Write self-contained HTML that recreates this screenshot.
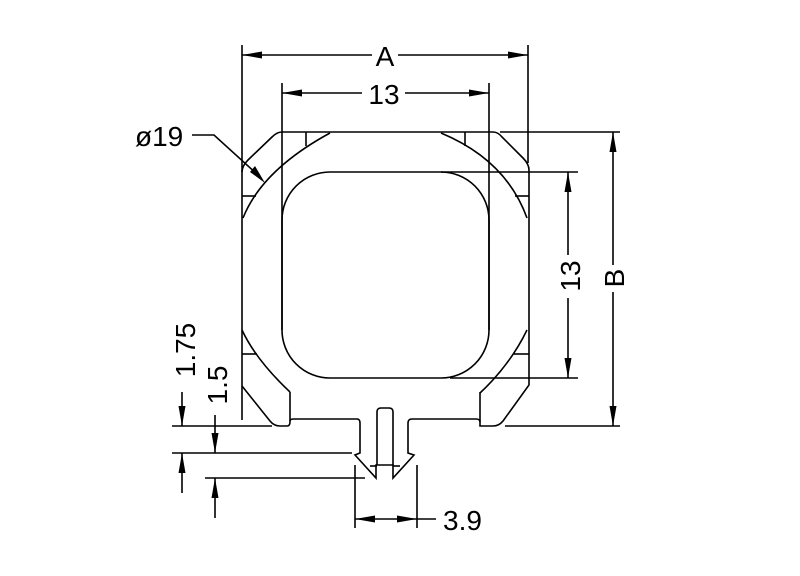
<!DOCTYPE html>
<html><head><meta charset="utf-8"><style>
html,body{margin:0;padding:0;background:#fff;}
svg{display:block;}
text{font-family:"Liberation Sans","DejaVu Sans",sans-serif;fill:#000;}
</style></head><body>
<svg width="800" height="576" viewBox="0 0 800 576" xmlns="http://www.w3.org/2000/svg">
<g fill="none" stroke="#000" stroke-width="1.6">
<line x1="242" y1="45" x2="242" y2="420"/>
<line x1="528" y1="45" x2="528" y2="163"/>
<line x1="282" y1="83" x2="282" y2="330"/>
<line x1="489" y1="83" x2="489" y2="330"/>
<line x1="500" y1="132" x2="620" y2="132"/>
<line x1="441" y1="172" x2="578" y2="172"/>
<line x1="450" y1="378" x2="578" y2="378"/>
<line x1="505" y1="426" x2="620" y2="426"/>
<line x1="242" y1="55" x2="372" y2="55"/><line x1="398" y1="55" x2="528" y2="55"/>
<line x1="282" y1="93" x2="362" y2="93"/><line x1="405" y1="93" x2="489" y2="93"/>
<line x1="568" y1="172" x2="568" y2="255"/><line x1="568" y1="298" x2="568" y2="378"/>
<line x1="613" y1="132" x2="613" y2="265"/><line x1="613" y1="292" x2="613" y2="426"/>

<path d="M282 132 L493 132"/>
<path d="M282 132 Q277 132 272 137 L248 160 Q242 166 242 172"/>
<path d="M493 132 Q498 132 502 137 L523 158 Q529 164 529 170 L529 385 L503 421 Q499 426 493 426"/>
<path d="M242 386 L270 421 Q274 426 280 426 L287 426 Q290 426 290 422 L290 421 Q290 419 294 419 L357 419 Q360 419 360 423 L360 453 L355 455 L376 478 L376 465 L393 465 L393 478 L414 455 L408 453 L408 423 Q408 419 412 419 L476 419 Q480 419 480 422 L480 426 Q481 426 493 426"/>
<path d="M290 421 L290 392"/>
<path d="M480 422 L480 392"/>
<path d="M377 465 L377 412 Q377 408 381 408 L389 408 Q393 408 393 412 L393 465"/>
<line x1="370" y1="466" x2="377" y2="466"/><line x1="393" y1="466" x2="400" y2="466"/>
<path d="M243 218 Q262 170 330 133"/>
<path d="M441 133 Q506 160 527 218"/>
<path d="M242 330 Q256 360 290 392"/>
<path d="M527 330 Q510 365 480 393"/>
<line x1="306" y1="132" x2="306" y2="146"/><line x1="465" y1="132" x2="465" y2="146"/>
<line x1="242" y1="196" x2="256" y2="196"/><line x1="515" y1="196" x2="529" y2="196"/>
<line x1="242" y1="354" x2="257" y2="354"/><line x1="514" y1="354" x2="529" y2="354"/>
<rect x="282" y="172" width="207" height="206" rx="48" ry="48"/>
<path d="M192 135 L214 135 L258 175"/>
<line x1="172" y1="426" x2="272" y2="426"/>
<line x1="172" y1="453" x2="352" y2="453"/>
<line x1="205" y1="478" x2="365" y2="478"/>
<line x1="182" y1="392" x2="182" y2="426"/><line x1="182" y1="453" x2="182" y2="493"/>
<line x1="215" y1="415" x2="215" y2="453"/><line x1="215" y1="478" x2="215" y2="518"/>
<line x1="355" y1="465" x2="355" y2="528"/><line x1="417" y1="465" x2="417" y2="528"/>
<line x1="355" y1="519" x2="436" y2="519"/>
</g>
<g fill="#000">
<polygon points="242,55 262,51.5 262,58.5"/><polygon points="528,55 508,51.5 508,58.5"/>
<polygon points="282,93 302,89.5 302,96.5"/><polygon points="489,93 469,89.5 469,96.5"/>
<polygon points="568,172 564.5,192 571.5,192"/><polygon points="568,378 564.5,358 571.5,358"/>
<polygon points="613,132 609.5,152 616.5,152"/><polygon points="613,426 609.5,406 616.5,406"/>
<polygon points="265,183 250,172 255,166"/>
<polygon points="182,426 178.5,406 185.5,406"/><polygon points="182,453 178.5,473 185.5,473"/>
<polygon points="215,453 211.5,433 218.5,433"/><polygon points="215,478 211.5,498 218.5,498"/>
<polygon points="355,519 375,515.5 375,522.5"/><polygon points="417,519 397,515.5 397,522.5"/>
</g>
<g font-size="28">
<text x="385" y="66" text-anchor="middle">A</text>
<text x="384" y="104" text-anchor="middle">13</text>
<text x="135" y="146">ø19</text>
<text x="443" y="530">3.9</text>
<text transform="translate(580,276) rotate(-90)" text-anchor="middle">13</text>
<text transform="translate(624,278) rotate(-90)" text-anchor="middle">B</text>
<text transform="translate(195,350) rotate(-90)" text-anchor="middle">1.75</text>
<text transform="translate(227,385) rotate(-90)" text-anchor="middle">1.5</text>
</g>
</svg>
</body></html>
